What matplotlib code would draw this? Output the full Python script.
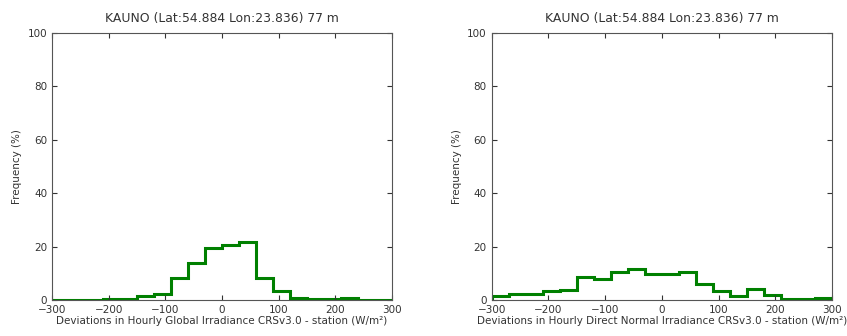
import matplotlib
matplotlib.use("Agg")
from matplotlib import pyplot as plt
import numpy as np

edges = np.arange(-300, 301, 30)
glob_freq = [0.1, 0.1, 0.1, 0.5, 0.5, 1.5, 2.3, 8.1, 13.8, 19.5,
             20.7, 21.9, 8.1, 3.5, 0.9, 0.4, 0.4, 0.6, 0.1, 0.1]
dni_freq = [1.4, 2.4, 2.4, 3.3, 3.7, 8.5, 7.7, 10.4, 11.5, 9.7,
            9.7, 10.4, 5.9, 3.5, 1.5, 4.3, 1.8, 0.5, 0.5, 0.9]
title = "KAUNO (Lat:54.884 Lon:23.836) 77 m"
xlabels = ["Deviations in Hourly Global Irradiance CRSv3.0 - station (W/m\u00b2)",
           "Deviations in Hourly Direct Normal Irradiance CRSv3.0 - station (W/m\u00b2)"]

fig = plt.figure(figsize=(8.47, 3.36), dpi=100)
pos = [[0.0614, 0.107, 0.4014, 0.795], [0.5805, 0.107, 0.4021, 0.795]]
fs = 7.5
for p, vals, lab in zip(pos, [glob_freq, dni_freq], xlabels):
    ax = fig.add_axes(p)
    ax.stairs(vals, edges, color="#008000", lw=2.2)
    ax.set_xlim(-300, 300)
    ax.set_ylim(0, 100)
    ax.set_xticks(np.arange(-300, 301, 100))
    ax.set_yticks(np.arange(0, 101, 20))
    ax.tick_params(direction="in", top=True, right=True, labelsize=fs,
                   colors="#333333", length=3.5)
    for s in ax.spines.values():
        s.set_color("#555555")
    ax.set_xlabel(lab, fontsize=fs, color="#333333", labelpad=1)
    ax.set_ylabel("Frequency (%)", fontsize=fs, color="#333333")
    ax.set_title(title, fontsize=8.9, color="#333333", pad=8)

fig.savefig("out.png", dpi=100)
